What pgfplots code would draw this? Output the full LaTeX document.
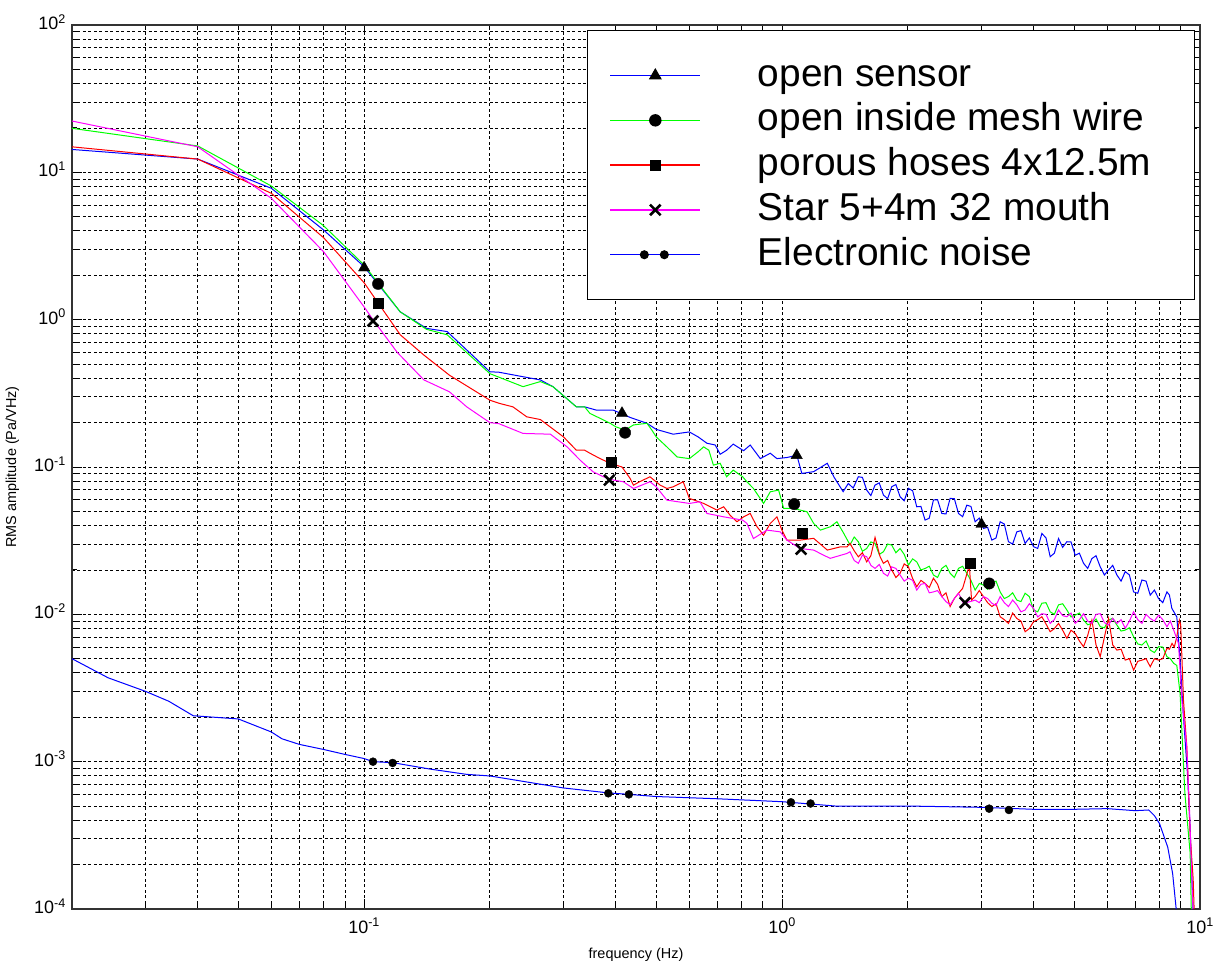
\documentclass[border=0pt]{standalone}
\usepackage{fontspec}
\setmainfont{Liberation Sans}
\usepackage{pgfplots}
\pgfplotsset{compat=1.18}
\definecolor{mblue}{RGB}{0,0,255}
\definecolor{mgreen}{RGB}{0,255,0}
\definecolor{mred}{RGB}{255,0,0}
\definecolor{mmag}{RGB}{255,0,255}
\begin{document}
\begin{tikzpicture}
\begin{axis}[
  xmode=log, ymode=log,
  scale only axis, width=1128bp, height=884bp,
  at={(0,0)}, anchor=south west,
  xmin=0.02, xmax=10, ymin=1e-4, ymax=100,
  xtick={0.1,1,10},
  xticklabels={10\textsuperscript{-1},10\textsuperscript{0},10\textsuperscript{1}},
  ytick={1e-4,1e-3,1e-2,1e-1,1,10,100},
  yticklabels={10\textsuperscript{-4},10\textsuperscript{-3},10\textsuperscript{-2},10\textsuperscript{-1},10\textsuperscript{0},10\textsuperscript{1},10\textsuperscript{2}},
  minor xtick={0.03,0.04,0.05,0.06,0.07,0.08,0.09,0.2,0.3,0.4,0.5,0.6,0.7,0.8,0.9,2,3,4,5,6,7,8,9},
  minor ytick={2e-4,3e-4,4e-4,5e-4,6e-4,7e-4,8e-4,9e-4,2e-3,3e-3,4e-3,5e-3,6e-3,7e-3,8e-3,9e-3,0.02,0.03,0.04,0.05,0.06,0.07,0.08,0.09,0.2,0.3,0.4,0.5,0.6,0.7,0.8,0.9,2,3,4,5,6,7,8,9,20,30,40,50,60,70,80,90},
  grid=both,
  major grid style={black, line width=0.95bp, dash pattern=on 3bp off 2.5bp},
  minor grid style={black, line width=0.95bp, dash pattern=on 3bp off 2.5bp},
  tick align=inside, xtick pos=both, ytick pos=both,
  major tick length=10bp, minor tick length=5bp,
  every tick/.style={black, line width=1bp},
  axis line style={black!80, line width=1.3bp},
  ticklabel style={font=\fontsize{18}{20}\selectfont},
  xticklabel style={inner sep=0pt, anchor=north, yshift=-9bp},
  yticklabel style={inner sep=0pt, anchor=east, xshift=-6bp, yshift=3bp},
  xlabel={frequency (Hz)}, ylabel={RMS amplitude (Pa/VHz)},
  label style={font=\fontsize{14.5}{16}\selectfont},
  xlabel style={at={(axis description cs:0.5,-0.052)}, anchor=center},
  ylabel style={at={(axis description cs:-0.0528,0.5)}, anchor=center},
  legend cell align=left,
  legend style={at={(axis description cs:0.9956,0.9943)}, anchor=north east,
    draw=black, line width=1bp, fill=white,
    inner xsep=22bp, inner ysep=26.5bp,
    font=\fontsize{39}{47}\selectfont,
    nodes={inner sep=0pt, text height=29bp, text depth=8bp},
    row sep=7.8bp, column sep=57bp},
]
% open sensor
\addplot[mblue, line width=1bp, forget plot] coordinates {
(0.02,14.3)(0.04,12.3)(0.06,7.79)(0.08,4.06)(0.1,2.29)(0.122,1.13)(0.141,0.873)(0.158,0.83)
(0.2,0.443)(0.21,0.44)(0.24,0.41)(0.264,0.39)(0.283,0.351)(0.322,0.256)(0.337,0.256)
(0.36,0.243)(0.395,0.243)(0.433,0.217)(0.475,0.198)(0.5,0.18)(0.549,0.167)(0.6,0.173)
(0.63,0.16)(0.661,0.145)(0.692,0.141)(0.711,0.122)(0.737,0.13)(0.764,0.143)(0.809,0.129)
(0.839,0.141)(0.887,0.114)(0.937,0.124)(0.972,0.114)(1.027,0.116)(1.085,0.12)(1.115,0.0904)
(1.19,0.093)(1.283,0.106)(1.33,0.0858)(1.4,0.068)(1.44,0.0773)(1.48,0.072)(1.522,0.0859)(1.557,0.085)(1.594,0.0697)
(1.631,0.064)(1.669,0.0754)(1.708,0.078)(1.748,0.0645)(1.789,0.061)(1.83,0.0735)(1.872,0.076)(1.916,0.0628)(1.96,0.059)(2.006,0.0716)
(2.053,0.069)(2.1,0.0537)(2.149,0.054)(2.199,0.0436)(2.25,0.045)(2.302,0.0597)(2.355,0.060)(2.411,0.0484)(2.467,0.048)(2.524,0.0612)
(2.583,0.061)(2.643,0.0484)(2.704,0.046)(2.767,0.0551)(2.831,0.054)(2.897,0.0425)(2.964,0.045)(3.033,0.0383)(3.103,0.039)
(3.176,0.0319)(3.25,0.033)(3.325,0.0425)(3.402,0.041)(3.481,0.0311)(3.562,0.030)(3.645,0.0363)(3.729,0.037)(3.816,0.0303)
(3.905,0.033)(3.996,0.0288)(4.089,0.028)(4.184,0.0354)(4.281,0.033)(4.38,0.0246)(4.482,0.026)(4.586,0.0327)(4.692,0.0285)
(4.802,0.0311)(4.913,0.031)(5.028,0.0252)(5.145,0.026)(5.264,0.0222)(5.386,0.0205)(5.511,0.0239)(5.639,0.025)(5.771,0.021)
(5.905,0.0185)(6.042,0.02)(6.182,0.0215)(6.326,0.0185)(6.473,0.0168)(6.623,0.0195)(6.777,0.0185)(6.935,0.0142)
(7.096,0.0139)(7.261,0.0171)(7.429,0.0168)(7.602,0.0135)(7.778,0.0146)(7.96,0.0128)(8.144,0.012)
(8.334,0.0142)(8.45,0.0135)(8.56,0.011)(8.8,0.0096)(8.96,0.0049)(9.13,0.002)(9.33,0.00083)(9.47,0.00036)(9.62,0.0001)
};
% open inside mesh wire
\addplot[mgreen, line width=1bp, forget plot] coordinates {
(0.02,19.9)(0.04,15.1)(0.06,8.07)(0.08,4.34)(0.1,2.35)(0.122,1.13)(0.141,0.86)(0.158,0.79)
(0.2,0.43)(0.24,0.351)(0.264,0.38)(0.283,0.351)(0.322,0.256)(0.337,0.256)(0.347,0.231)
(0.367,0.214)(0.388,0.198)(0.4,0.1875)(0.421,0.178)(0.441,0.193)(0.475,0.198)(0.488,0.178)
(0.5,0.16)(0.53,0.137)(0.561,0.117)(0.6,0.114)(0.63,0.127)(0.649,0.137)(0.668,0.13)(0.685,0.103)
(0.711,0.106)(0.737,0.0858)(0.764,0.0953)(0.805,0.0858)(0.824,0.0794)(0.854,0.0715)(0.903,0.0566)
(0.937,0.0679)(0.981,0.0697)(1.009,0.0523)(1.066,0.0523)(1.147,0.0497)(1.19,0.0414)(1.235,0.0373)
(1.304,0.0393)(1.353,0.0425)(1.405,0.0354)(1.454,0.0296)(1.488,0.0335)(1.522,0.0311)(1.557,0.0268)(1.594,0.028)
(1.631,0.031)(1.669,0.0303)(1.708,0.0255)(1.748,0.0266)(1.789,0.030)(1.83,0.0295)(1.872,0.0262)(1.916,0.028)(1.96,0.0255)
(2.006,0.0216)(2.053,0.0238)(2.1,0.0227)(2.149,0.020)(2.199,0.0205)(2.25,0.0212)(2.302,0.0185)(2.355,0.0178)
(2.411,0.0205)(2.467,0.0215)(2.524,0.019)(2.583,0.0178)(2.643,0.0205)(2.704,0.0212)(2.767,0.019)(2.831,0.017)
(2.897,0.0146)(2.964,0.0162)(3.033,0.0158)(3.103,0.0148)(3.176,0.0162)(3.25,0.0168)(3.325,0.0142)(3.402,0.0128)
(3.481,0.0132)(3.562,0.014)(3.645,0.0125)(3.729,0.0122)(3.816,0.0139)(3.905,0.0132)(3.996,0.0107)(4.089,0.0104)
(4.184,0.0119)(4.281,0.012)(4.38,0.0104)(4.482,0.010)(4.586,0.0116)(4.692,0.0118)(4.802,0.0107)(4.913,0.0096)
(5.028,0.00988)(5.145,0.0102)(5.264,0.00914)(5.386,0.0085)(5.511,0.00868)(5.639,0.0093)(5.771,0.00824)(5.905,0.0081)
(6.042,0.00914)(6.182,0.0094)(6.326,0.00846)(6.473,0.0077)(6.623,0.00782)(6.777,0.0081)(6.935,0.00705)(7.096,0.0063)
(7.261,0.00619)(7.429,0.0066)(7.602,0.00572)(7.778,0.0055)(7.96,0.00603)(8.144,0.006)(8.334,0.00516)(8.49,0.005)
(8.65,0.00465)(8.8,0.0045)(8.96,0.0029)(9.2,0.00061)(9.47,0.00024)(9.53,0.0001)
};
% porous hoses
\addplot[mred, line width=1bp, forget plot] coordinates {
(0.02,14.9)(0.04,12.3)(0.06,7.2)(0.08,3.6)(0.1,1.78)(0.122,0.79)(0.139,0.575)(0.16,0.42)
(0.2,0.284)(0.211,0.27)(0.227,0.256)(0.245,0.219)(0.264,0.21)(0.3,0.16)(0.322,0.13)(0.337,0.13)
(0.347,0.124)(0.367,0.114)(0.388,0.106)(0.414,0.1)(0.433,0.0836)(0.441,0.0753)(0.456,0.0794)
(0.483,0.0858)(0.511,0.0753)(0.53,0.0715)(0.549,0.0734)(0.58,0.0794)(0.6,0.0612)(0.649,0.0566)
(0.698,0.051)(0.725,0.0537)(0.751,0.0471)(0.78,0.0425)(0.809,0.0459)(0.839,0.0484)(0.871,0.0393)
(0.903,0.0345)(0.937,0.0414)(0.972,0.0459)(0.999,0.0373)(1.027,0.0319)(1.104,0.0319)(1.19,0.0328)
(1.283,0.0273)(1.378,0.0287)(1.43,0.0287)(1.454,0.0303)(1.488,0.027)(1.522,0.0246)(1.557,0.0262)(1.594,0.0227)
(1.631,0.025)(1.669,0.0333)(1.716,0.0246)(1.748,0.0222)(1.789,0.0232)(1.83,0.02)(1.872,0.0178)(1.916,0.019)(1.96,0.022)
(2.006,0.021)(2.053,0.0175)(2.1,0.0154)(2.149,0.017)(2.199,0.0162)(2.25,0.0152)(2.302,0.0176)(2.355,0.016)
(2.411,0.0132)(2.467,0.014)(2.524,0.0113)(2.583,0.0128)(2.643,0.0139)(2.704,0.015)(2.741,0.0171)(2.806,0.0216)
(2.84,0.0125)(2.897,0.0132)(2.964,0.0145)(3.033,0.0132)(3.103,0.012)(3.176,0.0113)(3.25,0.0118)(3.325,0.00963)
(3.402,0.0092)(3.481,0.00868)(3.562,0.0102)(3.645,0.00938)(3.729,0.009)(3.816,0.00762)(3.905,0.008)(3.996,0.00891)
(4.089,0.0092)(4.184,0.00963)(4.281,0.0086)(4.38,0.00762)(4.482,0.008)(4.586,0.00868)(4.692,0.0078)(4.802,0.00687)
(4.913,0.0078)(5.028,0.00742)(5.145,0.0066)(5.264,0.00603)(5.386,0.0072)(5.511,0.00914)(5.639,0.0062)(5.771,0.00516)
(5.905,0.007)(6.042,0.00938)(6.182,0.0062)(6.326,0.00572)(6.473,0.0058)(6.623,0.00489)(6.777,0.005)(6.935,0.00418)
(7.096,0.0048)(7.261,0.00489)(7.429,0.005)(7.602,0.00441)(7.778,0.005)(7.96,0.00489)(8.144,0.005)(8.334,0.00588)
(8.45,0.0058)(8.57,0.00635)(8.68,0.006)(8.8,0.00705)(8.925,0.00914)(8.99,0.0085)
(9.13,0.0026)(9.3,0.00125)(9.47,0.00032)(9.63,0.00016)(9.68,0.0001)
};
% star
\addplot[mmag, line width=1bp, forget plot] coordinates {
(0.02,22.3)(0.04,14.9)(0.06,6.66)(0.08,2.89)(0.1,1.22)(0.105,1.0)(0.12,0.6)(0.139,0.39)(0.16,0.324)
(0.176,0.256)(0.2,0.2)(0.21,0.197)(0.24,0.169)(0.279,0.167)(0.306,0.137)(0.329,0.111)(0.353,0.0928)
(0.374,0.0858)(0.395,0.0815)(0.417,0.0794)(0.441,0.0715)(0.483,0.0794)(0.5,0.0734)(0.53,0.0596)
(0.6,0.0566)(0.636,0.0581)(0.661,0.0484)(0.725,0.0459)(0.805,0.0436)(0.824,0.0414)(0.854,0.0327)
(0.92,0.0373)(0.99,0.0363)(1.027,0.0319)(1.104,0.028)(1.19,0.0273)(1.257,0.0252)(1.304,0.024)
(1.43,0.0259)(1.454,0.0266)(1.488,0.0232)(1.522,0.0222)(1.557,0.0252)(1.594,0.0246)(1.631,0.0215)(1.669,0.0205)
(1.708,0.0218)(1.748,0.019)(1.789,0.0182)(1.83,0.021)(1.872,0.0205)(1.916,0.0185)(1.96,0.0168)(2.006,0.0176)
(2.053,0.017)(2.1,0.0146)(2.149,0.016)(2.199,0.0162)(2.25,0.014)(2.302,0.0142)(2.355,0.0145)(2.411,0.0132)
(2.467,0.0122)(2.524,0.0116)(2.583,0.0128)(2.643,0.0139)(2.715,0.0119)(2.82,0.0122)(2.897,0.0125)(2.964,0.012)
(3.033,0.0132)(3.103,0.0128)(3.176,0.0119)(3.25,0.0115)(3.325,0.0132)(3.402,0.012)(3.481,0.0113)(3.562,0.0125)
(3.645,0.0116)(3.729,0.0104)(3.816,0.0107)(3.905,0.0118)(3.996,0.011)(4.089,0.0096)(4.184,0.0101)(4.281,0.010)
(4.38,0.00868)(4.482,0.0092)(4.586,0.0107)(4.692,0.0098)(4.802,0.00963)(4.913,0.0102)(5.028,0.00868)(5.145,0.0092)
(5.264,0.0101)(5.386,0.009)(5.511,0.00868)(5.639,0.010)(5.771,0.0101)(5.905,0.0088)(6.042,0.00846)(6.182,0.0094)
(6.326,0.00868)(6.473,0.0092)(6.623,0.00803)(6.777,0.009)(6.935,0.0104)(7.096,0.0092)(7.261,0.00868)(7.429,0.010)
(7.602,0.00938)(7.778,0.009)(7.96,0.00988)(8.144,0.0092)(8.334,0.00824)(8.49,0.009)(8.65,0.00782)
(8.88,0.00635)(9.05,0.0026)(9.3,0.00125)(9.44,0.00046)(9.55,0.00017)(9.62,0.0001)
};
% electronic noise
\addplot[mblue, line width=1bp, forget plot] coordinates {
(0.02,5e-3)(0.0244,3.71e-3)(0.03,3.0e-3)(0.0341,2.57e-3)(0.039,2.05e-3)(0.05,1.95e-3)(0.06,1.59e-3)
(0.0636,1.43e-3)(0.07,1.31e-3)(0.08,1.21e-3)(0.09,1.12e-3)(0.1,1.05e-3)(0.105,1.0e-3)(0.117,9.85e-4)
(0.144,8.9e-4)(0.176,8.2e-4)(0.2,8.0e-4)(0.3,6.63e-4)(0.384,6.14e-4)(0.43,6.0e-4)(0.5,5.8e-4)
(0.7,5.6e-4)(1.0,5.35e-4)(1.34,5.0e-4)(2.0,5.0e-4)(3.0,4.9e-4)(4.0,4.75e-4)(5.0,4.75e-4)(6.0,4.8e-4)
(7.0,4.65e-4)(7.54,4.7e-4)(7.78,4.3e-4)(8.0,3.8e-4)(8.37,2.63e-4)(8.6,1.74e-4)(8.77,1.0e-4)
};
% markers
\addplot[only marks, mark=triangle*, mark size=6.5bp, black, forget plot] coordinates {
(0.1,2.25)(0.414,0.232)(1.084,0.12)(3.0,0.0409)};
\addplot[only marks, mark=*, mark size=5.7bp, black, forget plot] coordinates {
(0.108,1.75)(0.421,0.171)(1.069,0.056)(3.13,0.0162)};
\addplot[only marks, mark=square*, mark size=5bp, black, forget plot] coordinates {
(0.108,1.30)(0.39,0.107)(1.12,0.0357)(2.82,0.0224)};
\addplot[only marks, mark=x, mark size=7.5bp, line width=2.6bp, black, forget plot] coordinates {
(0.105,0.98)(0.386,0.0815)(1.11,0.0277)(2.74,0.012)};
\addplot[only marks, mark=*, mark size=4bp, black, forget plot] coordinates {
(0.105,1e-3)(0.117,9.8e-4)(0.384,6.1e-4)(0.43,6.0e-4)(1.05,5.3e-4)(1.17,5.2e-4)(3.13,4.8e-4)(3.49,4.7e-4)};
% legend
\addlegendimage{legend image code/.code={\draw[draw=mblue, line width=1.3bp] (0bp,0bp) -- (90bp,0bp); \fill[fill=black] (45bp,6.5bp) -- (39.4bp,-3.25bp) -- (50.6bp,-3.25bp) -- cycle;}}
\addlegendentry{open sensor}
\addlegendimage{legend image code/.code={\draw[draw=mgreen, line width=1.3bp] (0bp,0bp) -- (90bp,0bp); \fill[fill=black] (45bp,0bp) circle (5.7bp);}}
\addlegendentry{open inside mesh wire\hspace*{28bp}}
\addlegendimage{legend image code/.code={\draw[draw=mred, line width=1.3bp] (0bp,0bp) -- (90bp,0bp); \fill[fill=black] (40bp,-5bp) rectangle (50bp,5bp);}}
\addlegendentry{porous hoses 4x12.5m}
\addlegendimage{legend image code/.code={\draw[draw=mmag, line width=1.3bp] (0bp,0bp) -- (90bp,0bp); \draw[draw=black, line width=2.6bp] (39.7bp,-5.3bp) -- (50.3bp,5.3bp) (39.7bp,5.3bp) -- (50.3bp,-5.3bp);}}
\addlegendentry{Star 5+4m 32 mouth}
\addlegendimage{legend image code/.code={\draw[draw=mblue, line width=1.3bp] (0bp,0bp) -- (90bp,0bp); \fill[fill=black] (34bp,0bp) circle (4bp) (54bp,0bp) circle (4bp);}}
\addlegendentry{Electronic noise}
\end{axis}
\pgfresetboundingbox
\path[use as bounding box] (-72bp,-63bp) rectangle (1154bp,909bp);
\end{tikzpicture}
\end{document}
